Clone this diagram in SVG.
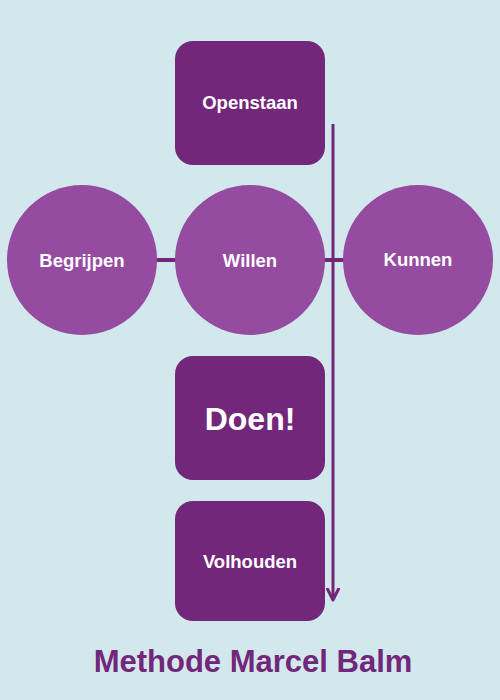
<svg xmlns="http://www.w3.org/2000/svg" width="500" height="700" viewBox="0 0 500 700">
<style>
.box{fill:#72277a}
.circ{fill:#954b9f}
.lbl{font-family:"Liberation Sans",Arial,sans-serif;font-weight:bold;fill:#ffffff;text-anchor:middle}
.conn{stroke:#72277a;fill:none}
</style>
<defs>
<marker id="arr" markerWidth="14" markerHeight="14" refX="12" refY="7" orient="auto" markerUnits="userSpaceOnUse" viewBox="0 0 14 14">
<path d="M1,1.5 L12,7 L1,12.5" fill="none" stroke="#72277a" stroke-width="3" stroke-linecap="round" stroke-linejoin="round"/>
</marker>
</defs>
<rect width="500" height="700" fill="#d3e8ed"/>
<g id="connectors">
<line class="conn" x1="155" y1="260" x2="177" y2="260" stroke-width="4"/>
<line class="conn" x1="323" y1="260" x2="345" y2="260" stroke-width="4"/>
<line class="conn" x1="333" y1="124" x2="333" y2="600" stroke-width="3" marker-end="url(#arr)"/>
</g>
<g id="openstaan">
<rect class="box" x="175" y="41" width="150" height="124" rx="18"/>
<text class="lbl" x="250" y="109" font-size="18.5">Openstaan</text>
</g>
<g id="begrijpen">
<circle class="circ" cx="82" cy="260" r="75"/>
<text class="lbl" x="82" y="267" font-size="18.5">Begrijpen</text>
</g>
<g id="willen">
<circle class="circ" cx="250" cy="260" r="75"/>
<text class="lbl" x="250" y="267" font-size="18.5">Willen</text>
</g>
<g id="kunnen">
<circle class="circ" cx="418" cy="260" r="75"/>
<text class="lbl" x="418" y="266" font-size="18.5">Kunnen</text>
</g>
<g id="doen">
<rect class="box" x="175" y="356" width="150" height="124" rx="18"/>
<text class="lbl" x="250" y="430" font-size="32">Doen!</text>
</g>
<g id="volhouden">
<rect class="box" x="175" y="501" width="150" height="120" rx="18"/>
<text class="lbl" x="250" y="568" font-size="18.5">Volhouden</text>
</g>
<text x="253" y="672" font-family="'Liberation Sans',Arial,sans-serif" font-weight="bold" font-size="31" fill="#72277a" text-anchor="middle">Methode Marcel Balm</text>
</svg>
